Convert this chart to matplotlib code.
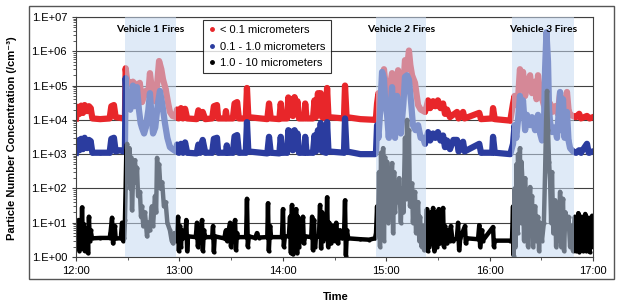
import numpy as np
import matplotlib
matplotlib.use('Agg')
import matplotlib.pyplot as plt
from matplotlib.patches import Rectangle
from matplotlib.ticker import FixedLocator, LogLocator, NullFormatter

plt.rcParams['font.family'] = ['Liberation Sans', 'DejaVu Sans']

# time in minutes after 12:00, concentration in particles / cm3
red_t = [0, 1, 2, 3, 4, 5, 6.5, 7.5, 8.5, 9.5, 14, 19.5, 20.5, 22, 23, 27.5,
         28.4, 28.8, 29.6, 31, 33, 35, 37, 38.3, 39.5, 40.5, 42, 42.9, 44, 45.8, 47, 48.2, 49.5,
         50.5, 52, 53.5, 54.5, 56, 58,
         58.6, 59.5, 60.9, 62, 63.3, 64.5, 70, 71, 72.5, 73.5, 75, 79, 80, 81.8, 82.5, 86.5, 87,
         87.6, 91, 92, 93.5, 94.5, 98.5, 99.2, 100, 111, 112, 113, 118, 118.8, 119.6, 122.5,
         123.2, 124, 125, 125.8, 126.8, 127.6, 128.5, 129.4, 132.5, 133, 133.8, 137.5, 138.4,
         139.2, 140.4, 141.2, 142, 142.8, 145, 145.7, 146.5, 155.5, 156.1, 157, 165, 173.5,
         174.1, 174.7, 175.5, 176.4, 177.6, 178.7, 179.5, 180.5, 181.5, 183.4, 184.2, 185.1,
         186.3, 186.9, 188, 189.2, 190.2, 190.9, 192, 193.2, 194, 195, 196.7, 198.5, 200, 202.5,
         203.5, 204.3, 205.5, 207.2, 208.5, 210, 211.5, 213, 214.1, 215.3, 217, 221.1, 222,
         224.6, 225.5, 234, 235, 241.5, 242, 243, 252,
         253.6, 254.5, 255.5, 256.5, 257.6, 258.5, 259.4, 260.6, 261.7, 263.5, 264.6, 266.4,
         267.2, 268.1, 269.3, 270.4, 272.2, 273.3, 275.1, 276.2, 278, 279.5, 280.9, 281.5,
         282.6, 284, 284.9, 285.8, 286.7, 288.4,
         290, 292, 293, 296.5, 298, 300]
red_v = [1.1e4, 2.4e4, 1.5e4, 2.6e4, 1.6e4, 2.7e4, 1.8e4, 2.5e4, 2.2e4, 1.1e4, 1.05e4, 1.1e4, 2.5e4, 2.7e4, 1.2e4, 1.1e4,
         1.2e4, 3.2e5, 1.5e5, 1.1e5, 1.3e5, 1.0e5, 1.2e5, 3.3e4, 5e4, 7e4, 6e4, 2.3e5, 8e4, 3.5e4, 1e5, 5.2e5, 3e5,
         1.5e5, 8e4, 3e4, 1.7e4, 1.3e4, 1.2e4,
         2e4, 1.1e4, 2.2e4, 1.1e4, 2.1e4, 1.1e4, 1.05e4, 1.9e4, 1.2e4, 1.7e4, 1.05e4, 1.1e4, 2.5e4, 2.7e4, 1.1e4, 1.1e4, 1.8e4,
         1.1e4, 1.1e4, 3e4, 3.3e4, 1.1e4, 1.1e4, 8.5e4, 1.2e4, 1.05e4, 3e4, 1.1e4, 1.05e4, 3e4, 1.1e4, 1.1e4,
         4.5e4, 1.5e4, 4e4, 1.3e4, 4.6e4, 1.5e4, 3.5e4, 1.1e4, 1.1e4, 3e4, 1.1e4, 1.1e4, 3.7e4,
         1.2e4, 6e4, 1.5e4, 6e4, 1.2e4, 1.1e4, 8.5e4, 1.2e4, 1.1e4, 1e5, 1.2e4, 1.05e4, 1e4,
         1.2e4, 3e4, 6e4, 4.5e4, 6e4, 3e5, 1.2e5, 5e4, 6e4, 2.3e5, 8e4, 5e4,
         1.2e5, 2.8e5, 1e5, 5e4, 1.5e5, 5.5e5, 3e5, 1.05e6, 4e5, 2e5, 1.2e5, 2.7e4, 2e4, 1.7e4,
         2.5e4, 3.7e4, 2.2e4, 3.5e4, 2.5e4, 3.7e4, 2.2e4, 3e4, 1.5e4, 2e4, 1.2e4, 1.7e4, 1.1e4,
         1.7e4, 1.1e4, 1.6e4, 1.05e4, 1.1e4, 2.2e4, 1.05e4, 9.5e3,
         3e4, 5e4, 2.7e4, 4e4, 3e5, 1.5e5, 2.5e5, 5e4, 1e5, 2e5, 6e4, 1.3e5,
         4e4, 2e5, 6e4, 4.3e4, 2e4, 2.5e4, 3e4, 1.7e4, 2.5e4, 1.5e4, 6e4, 2e4,
         4.3e4, 1.5e4, 6.5e4, 2e4, 1.4e4, 1.3e4,
         1.2e4, 1.5e4, 1.1e4, 1.3e4, 1.1e4, 1.2e4]

blue_t = [0, 1, 2, 3, 4, 5, 6.5, 7.5, 8.5, 9.5, 14, 19.5, 20.5, 22, 23, 25.5, 27.5,
          28.4, 28.8, 29.6, 30.5, 31.5, 33, 34, 35.4, 36.5, 37.5, 38.3, 39.5, 40.5, 42, 42.9, 44,
          44.7, 46, 47.5, 48.7, 50, 51.6, 53, 54.5, 56, 58,
          58.6, 59.5, 60.9, 62, 63.3, 64.5, 70, 71, 72, 73.5, 75, 79, 80, 81.8, 82.5, 87, 87.5,
          88, 91, 92, 93.5, 94.5, 98.5, 99.2, 100, 111, 112, 113, 118, 118.8, 119.6, 122.5,
          123.2, 124, 125, 125.8, 126.8, 127.6, 128.5, 129.4, 132.5, 133, 133.8, 137.5, 138.4,
          139.2, 140.4, 141.2, 142, 142.8, 145, 145.7, 146.5, 155.5, 156.1, 157, 165, 173.5,
          174.1, 174.7, 175.5, 176.4, 177.6, 178.7, 179.5, 180.5, 181.5, 182.5, 183.4, 184.2,
          185.1, 186.3, 187.2, 188.5, 190, 190.9, 192.1, 193.2, 194.5, 195.5, 197, 198.5, 200,
          201.4, 202.5,
          203.5, 204.3, 205.5, 207.2, 208.5, 210, 211.5, 213, 214.1, 215.3, 217, 219, 221.1, 222,
          224.6, 225.5, 234, 235, 241.5, 242, 243, 252,
          253.6, 254.5, 255.5, 256.5, 257.6, 258.5, 259.4, 260.6, 261.7, 263.5, 264.6, 266.4,
          268.1, 269.3, 270.4, 271.5, 272.2, 273, 273.9, 274.5, 275.1, 276.2, 278, 279.1, 280.9,
          281.5, 282.6, 283.5, 284.9, 285.8, 286.7, 288.4,
          290, 292, 293, 296.5, 297.5, 300]
blue_v = [1.1e3, 2.5e3, 1.3e3, 2.8e3, 1.4e3, 3e3, 1.5e3, 2.6e3, 2.4e3, 1.1e3, 1.1e3, 1.1e3, 2.8e3, 3e3, 1.2e3, 1.3e3, 1.2e3,
          1.5e3, 1.65e5, 3e4, 5e4, 2e4, 1e5, 2.5e4, 9e4, 2e4, 8e3, 5.8e3, 4e3, 6e3, 2e4, 6e4, 1e4,
          4e3, 6e3, 3e4, 7e4, 3e4, 8e3, 3e3, 1.6e3, 1.4e3, 1.2e3,
          1.9e3, 1.1e3, 2e3, 1.1e3, 2.2e3, 1.1e3, 1.05e3, 1.9e3, 1.1e3, 2.6e3, 1.1e3, 1.1e3, 2.8e3, 3e3, 1.1e3, 1.1e3, 1.8e3,
          1.1e3, 1.1e3, 3.3e3, 3.6e3, 1.1e3, 1.1e3, 8.6e3, 1.2e3, 1.05e3, 3.2e3, 1.1e3, 1.05e3, 3.2e3, 1.1e3, 1.1e3,
          5e3, 1.5e3, 4.5e3, 1.3e3, 5e3, 1.5e3, 4e3, 1.1e3, 1.1e3, 3.2e3, 1.1e3, 1.1e3, 3.5e3,
          1.2e3, 5e3, 1.5e3, 8e3, 1.2e3, 1.1e3, 8.6e3, 1.2e3, 1.1e3, 1.1e4, 1.2e3, 1e3, 1e3,
          1.2e3, 7e3, 3e3, 1.5e4, 2.5e5, 1.6e5, 3e4, 1.4e4, 3e3, 2e4, 9e4, 1.5e4,
          3e3, 5e4, 2e4, 4e3, 3e4, 1.8e5, 2e5, 1.5e5, 3e4, 7e3, 5e3, 7e3, 3e3,
          3e3, 2e3,
          3e3, 4.4e3, 2.5e3, 4e3, 3e3, 4.4e3, 2.5e3, 3.5e3, 1.6e3, 2.5e3, 1.4e3, 2.6e3, 2.6e3, 1.2e3,
          2.3e3, 1.2e3, 2e3, 1.1e3, 1.1e3, 3.2e3, 1.1e3, 1e3,
          2e3, 7e3, 3e3, 1e4, 5e4, 1.5e4, 3.7e4, 5e3, 1.4e4, 7e3, 1.2e4, 5e3,
          1.4e4, 4e3, 2.5e3, 5e3, 3e5, 3.6e6, 5e5, 2e4, 8.6e3, 4.4e3, 6e3, 3e3, 6.5e4,
          5e3, 4e4, 3e3, 1.7e4, 2.5e3, 1.5e3, 1.2e3,
          1.1e3, 1.3e3, 1.1e3, 2e3, 1.1e3, 1.2e3]

black_t = [0, 0.5, 1, 1.5, 2, 2.5, 3, 3.5, 4, 4.5, 5, 5.5, 6, 6.5, 7, 7.5, 8, 8.5, 9.3, 14, 19.5,
           20, 20.9, 21.5, 22.5, 23, 26, 26.7, 27.3, 28,
           28.4, 28.8, 29.2, 29.6, 30.2, 31, 31.5, 32, 32.5, 33.1, 34.2, 35, 35.4, 36, 37.1, 37.7,
           38.3, 39, 40, 41.2, 42, 42.9, 44, 44.7, 45.8, 46.5, 47, 47.6, 48.2, 49, 50, 51, 52, 53,
           54.5, 55.5, 56.3, 57, 58,
           58.6, 59.2, 59.7, 60.3, 60.9, 61.5, 62, 63.3, 64, 64.5, 65, 69.5, 70.2, 70.7, 71.5, 72.5,
           73.1, 73.6, 74.2, 75, 79, 79.5, 80, 80.5, 86, 87, 87.5, 89.4, 89.9, 90.5, 92.3, 92.8,
           93.4, 94, 98.7, 99.2, 99.7, 100.3, 104, 105, 106, 111, 111.4, 111.9, 112.6, 113.2,
           119.5, 120.1, 120.6, 121.2, 123.5, 124.2, 124.7, 125.3, 125.9, 126.5, 127.1, 127.7,
           128.3, 128.8, 129.4, 130, 130.6, 131.7, 132.2, 133, 136.5, 137, 137.5, 138.1, 138.7,
           139.3, 141, 141.6, 142.2, 142.8, 143.3, 145.2, 145.7, 146.3, 147, 148, 149, 150, 151,
           152, 153.2, 154.5, 155.5, 156.1, 156.6, 157.2, 158, 165, 170, 173.5,
           174.1, 174.7, 175.2, 175.8, 176.4, 177, 177.6, 178.2, 178.7, 179.3, 180, 180.5, 181.1,
           181.7, 182.2, 183.4, 184, 184.6, 185.1, 186, 186.9, 187.5, 188.5, 189.2, 190, 190.9,
           191.5, 192.1, 192.7, 193.2, 193.8, 195, 195.5, 196.7, 197.3, 198.5, 199.2, 199.6,
           200.5, 201.4, 202, 202.5,
           203.1, 203.6, 204, 204.3, 205, 205.5, 206, 207.2, 208, 208.8, 209.5, 210.5, 211.2, 212,
           213, 213.5, 214.1, 215.3, 216, 217, 217.5, 218.5, 221, 221.7, 222.3, 223, 225.7, 226.2,
           227, 233.3, 234, 234.5, 235.6, 236, 242, 242.5, 243, 252,
           253, 253.6, 254, 254.5, 255, 255.6, 256.2, 256.5, 257, 257.6, 258, 258.5, 259.4, 260,
           260.6, 261.2, 261.7, 262.3, 263, 263.5, 264, 264.6, 265.2, 266.4, 267.2, 268.1, 268.7,
           269.3, 270.4, 271.5, 272.2, 272.8, 273.3, 273.9, 274.5, 275.1, 275.7, 276.2, 277, 278,
           278.6, 279.1, 280, 280.9, 281.5, 282.6, 283.2, 284, 284.9, 285.8, 286.7, 287.5, 288.4, 289,
           289.5, 290, 290.5, 291, 291.5, 292, 292.5, 293, 293.5, 294, 294.5, 295, 295.5, 296,
           296.5, 297, 297.5, 298, 298.5, 299, 299.5, 300]
black_v = [4, 8, 2, 12, 1.5, 6, 2.5, 28, 3, 9, 1.5, 5, 2.5, 7, 1.3, 15, 3, 6, 3.5, 3.6, 3.6,
           5, 14, 2.5, 8, 3.5, 3.5, 10, 3, 3.5,
           12, 100, 1300, 2000, 300, 1500, 100, 800, 23, 200, 670, 150, 400, 60, 80, 15,
           30, 8, 20, 4, 10, 6, 30, 8, 60, 20, 780, 300, 500, 100, 150, 30, 40, 10,
           6, 3, 2.5, 5, 3,
           4, 15, 1.5, 8, 2, 6, 3.5, 4, 12, 1.5, 4, 3.8, 10, 2, 4, 3.5,
           12, 1.5, 6, 3.8, 3.8, 8, 1.4, 4, 3.5, 6, 3, 10, 2, 4, 12, 1.6,
           5, 3.8, 3.8, 50, 2, 4, 3.6, 5, 3.7, 3.8, 37, 1.5, 8, 3.8,
           3.8, 25, 2, 4, 4, 15, 1.3, 33, 1.2, 20, 1.5, 25,
           1.3, 15, 2, 8, 3, 15, 2.5, 4, 3.8, 15, 1.6, 12, 2,
           4, 4, 33, 1.8, 20, 3, 3.8, 55, 2, 10, 2.5, 8, 3, 10,
           2.5, 6, 3.5, 4, 45, 1.1, 6, 3.5, 3.3, 3.2, 3.5,
           5, 30, 5, 300, 2, 1100, 20, 1500, 3, 800, 40, 600, 10,
           200, 30, 550, 5, 300, 20, 150, 40, 200, 10, 100, 20, 3000,
           50, 1e4, 200, 5000, 30, 140, 10, 80, 5, 40, 3, 15,
           2, 8, 1.6, 5,
           5, 25, 1.5, 15, 2, 20, 2.5, 27, 1.5, 20, 2, 25, 2.5, 15,
           27, 2, 8, 2.5, 6, 3, 8, 3, 3.5, 10, 1.6, 3.5, 8, 2.5,
           3.5, 3.3, 8.5, 2, 6, 3, 7.5, 2, 3, 3,
           3, 30, 1.1, 100, 2, 500, 5, 1000, 20, 1500, 10, 600, 80, 3,
           200, 10, 40, 2, 20, 110, 5, 60, 2, 30, 3, 15, 1.5,
           10, 3, 10, 300, 1e4, 7e4, 5e3, 600, 170, 10, 300, 5, 45,
           2, 30, 3, 80, 2, 50, 1.5, 20, 8, 15, 2, 8, 1.5, 5,
           15, 1.5, 12, 2, 19, 1.4, 10, 2, 15, 1.5, 12, 2, 18, 1.5,
           10, 2, 14, 1.4, 12, 2, 16, 3]

series_labels = ['< 0.1 micrometers', '0.1 - 1.0 micrometers', '1.0 - 10 micrometers']
fire_start = [28.4, 174.1, 253.0]
fire_end = [58.0, 203.1, 289.0]
fire_labels = ['Vehicle 1 Fires', 'Vehicle 2 Fires', 'Vehicle 3 Fires']
hour_ticks = [0, 60, 120, 180, 240, 300]
hour_labels = ['12:00', '13:00', '14:00', '15:00', '16:00', '17:00']
decades = [1e0, 1e1, 1e2, 1e3, 1e4, 1e5, 1e6, 1e7]
decade_labels = ['1.E+00', '1.E+01', '1.E+02', '1.E+03', '1.E+04', '1.E+05', '1.E+06', '1.E+07']

colors = ['#e8262a', '#2b3c9f', '#000000']
widths = [4.5, 4.5, 3.2]

fig = plt.figure(figsize=(6.21, 3.08), dpi=100)
ax = fig.add_axes([0.1224, 0.1656, 0.8325, 0.7792])

for t, v, c, w, lab in zip([red_t, blue_t, black_t], [red_v, blue_v, black_v], colors, widths, series_labels):
    ax.plot(t, v, '-o', color=c, lw=w, ms=3.0, mew=0, zorder=2, solid_joinstyle='round')
    ax.plot([], [], 'o', color=c, ms=2.5, label=lab)

for s, e, lab in zip(fire_start, fire_end, fire_labels):
    ax.axvspan(s, e, color='#c6d9f1', alpha=0.55, lw=0, zorder=3)
    ax.text((s + e) / 2, 4.3e6, lab, ha='center', va='center', fontsize=7.5,
            fontweight='bold', family=['Lato', 'DejaVu Sans'], zorder=4)

ax.set_yscale('log')
ax.set_ylim(1, 1e7)
ax.set_xlim(0, 300)
ax.yaxis.set_major_locator(FixedLocator(decades))
ax.set_yticklabels(decade_labels)
ax.yaxis.set_minor_locator(LogLocator(base=10, subs=np.arange(2, 10)))
ax.yaxis.set_minor_formatter(NullFormatter())
ax.set_xticks(hour_ticks)
ax.set_xticklabels(hour_labels)
ax.set_xticks([30, 90, 150, 210, 270], minor=True)
ax.grid(axis='y', which='major', color='#404040', lw=0.8, zorder=1)
ax.set_axisbelow(True)
ax.tick_params(axis='both', which='major', labelsize=8, direction='out', length=3, width=0.8,
               colors='#404040', labelcolor='black')
ax.tick_params(axis='both', which='minor', direction='out', length=2, width=0.6, colors='#404040')
for sp in ax.spines.values():
    sp.set_color('#404040')
    sp.set_linewidth(0.8)

leg = ax.legend(loc='upper left', bbox_to_anchor=(0.2456, 0.9875), borderaxespad=0,
                fontsize=8, frameon=True, fancybox=False, edgecolor='black',
                handletextpad=0.3, handlelength=0.8, labelspacing=0.6, borderpad=0.45)
leg.get_frame().set_linewidth(0.8)
leg.set_zorder(5)

fig.patches.append(Rectangle((0.0467, 0.0942), 0.942, 0.886, transform=fig.transFigure,
                             fill=False, ec='#555555', lw=1))
fig.text(0.02, 0.55, 'Particle Number Concentration (/cm⁻³)', rotation=90, ha='center',
         va='center', fontsize=8, fontweight='bold')
fig.text(0.54, 0.035, 'Time', ha='center', va='center', fontsize=8, fontweight='bold')

fig.savefig('out.png', dpi=100)
